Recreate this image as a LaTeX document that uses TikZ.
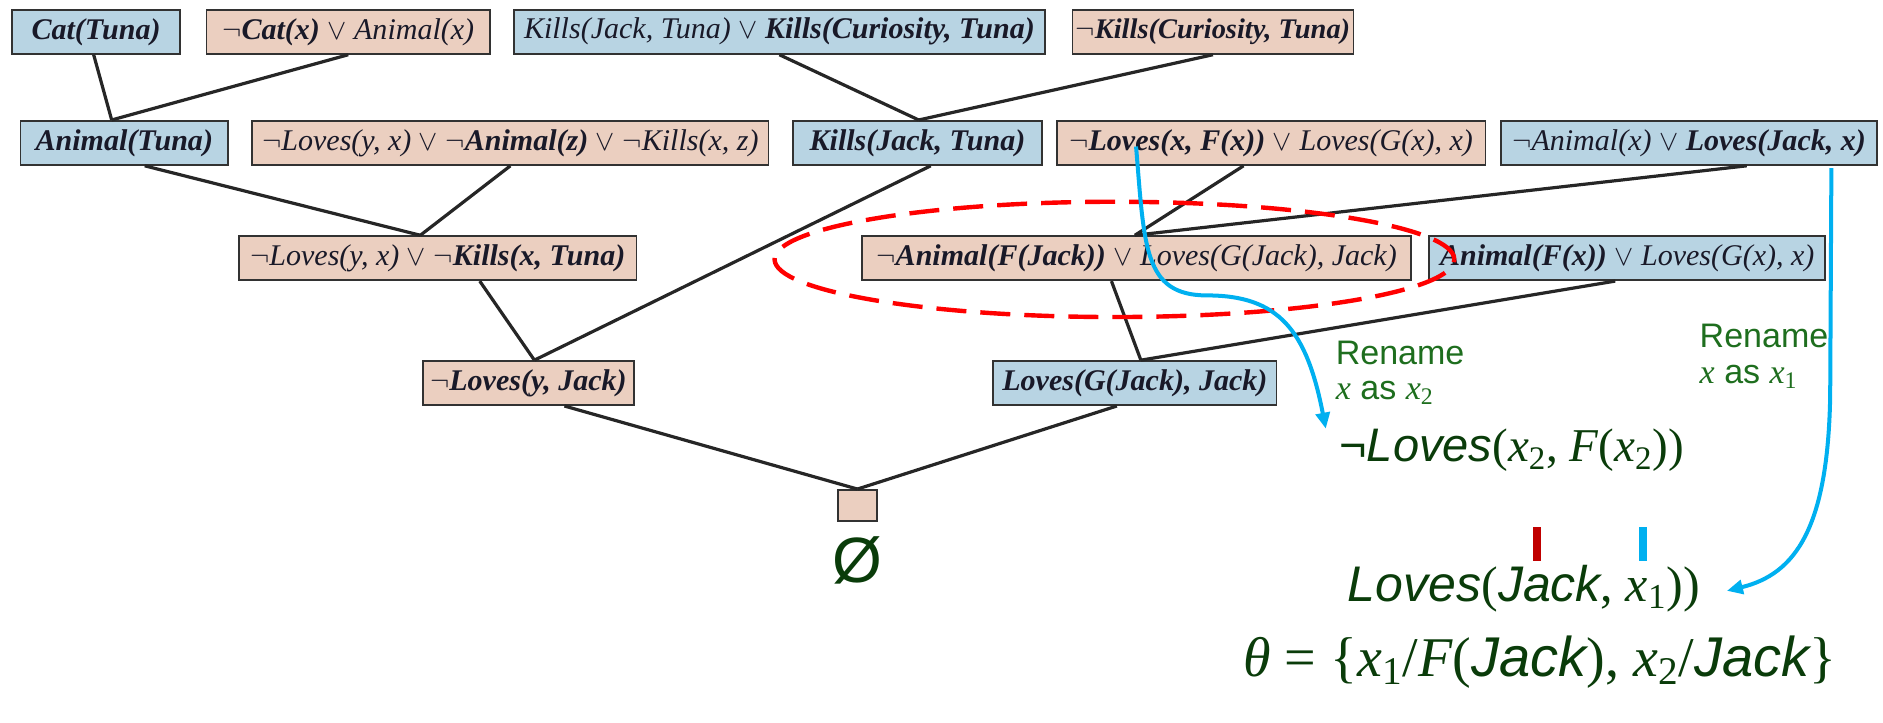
\documentclass[tikz,border=0pt]{standalone}
\usepackage{fontspec}
\setmainfont{Liberation Serif}
\newfontfamily\annsf{Liberation Sans}
\usetikzlibrary{arrows.meta,calc}
\definecolor{boxblue}{RGB}{184,212,227}
\definecolor{boxpeach}{RGB}{235,207,192}
\definecolor{boxedge}{RGB}{50,50,50}
\definecolor{textdark}{RGB}{25,25,40}
\definecolor{cyanline}{RGB}{0,176,240}
\definecolor{redline}{RGB}{255,0,0}
\definecolor{barred}{RGB}{192,0,0}
\definecolor{rengreen}{RGB}{30,110,30}
\definecolor{formgreen}{RGB}{10,60,10}
\newcommand\myit[1]{\textit{#1}}
\newcommand\mybf[1]{\textbf{\textit{#1}}}
\newcommand\sfi[1]{{\annsf\itshape #1}}
\newcommand\mv[1]{{\rmfamily\itshape #1}}
\newcommand\mn[1]{{\rmfamily #1}}
\newcommand\msub[1]{\textsubscript{\rmfamily #1}}
\begin{document}
\begin{tikzpicture}[x=0.6pt,y=-0.6pt,
  clause/.style={draw=boxedge, line width=0.9pt, inner sep=0pt, minimum height=22pt, text=textdark, font=\fontsize{15}{18}\selectfont},
  bluebox/.style={clause, fill=boxblue},
  peachbox/.style={clause, fill=boxpeach},
  treeline/.style={line width=1.6pt, draw=black!85},
  cyanarrow/.style={draw=cyanline, line width=2pt, -{Triangle[length=8pt,width=7pt]}},
  rentext/.style={text=rengreen, font=\annsf\fontsize{17}{20}\selectfont, inner sep=0pt, anchor=west},
  formtext/.style={text=formgreen, font=\annsf\fontsize{24}{28}\selectfont, inner sep=0pt},
]
\useasboundingbox (0,0) rectangle (1568,602);

% row 1
\node[bluebox, minimum width=84pt] (cat) at (80,26.5) {\mybf{Cat(Tuna)}};
\node[peachbox, minimum width=141.6pt] (ncat) at (290,26.5) {$\neg$\mybf{Cat(x)} $\vee$ \myit{Animal(x)}};
\node[bluebox, minimum width=265.2pt] (kills2) at (649,26.5) {\myit{Kills(Jack, Tuna)} $\vee$ \mybf{Kills(Curiosity, Tuna)}};
\node[peachbox, minimum width=140.4pt, font=\fontsize{14.2}{17}\selectfont] (nkc) at (1010,26.5) {$\neg$\mybf{Kills(Curiosity, Tuna)}};
% row 2
\node[bluebox, minimum width=103.8pt] (animal) at (103.5,119) {\mybf{Animal(Tuna)}};
\node[peachbox, minimum width=258pt] (lak) at (425,119) {$\neg$\myit{Loves(y, x)} $\vee$ $\neg$\mybf{Animal(z)} $\vee$ $\neg$\myit{Kills(x, z)}};
\node[bluebox, minimum width=124.8pt] (kjt) at (764,119) {\mybf{Kills(Jack, Tuna)}};
\node[peachbox, minimum width=214.2pt] (lfg) at (1058.5,119) {$\neg$\mybf{Loves(x, F(x))} $\vee$ \myit{Loves(G(x), x)}};
\node[bluebox, minimum width=187.8pt] (alj) at (1406.5,119) {$\neg$\myit{Animal(x)} $\vee$ \mybf{Loves(Jack, x)}};
% row 3
\node[peachbox, minimum width=198.6pt] (lk) at (364.5,215) {$\neg$\myit{Loves(y, x)} $\vee$ $\neg$\mybf{Kills(x, Tuna)}};
\node[peachbox, minimum width=274.2pt] (afj) at (946.5,215) {$\neg$\mybf{Animal(F(Jack))} $\vee$ \myit{Loves(G(Jack), Jack)}};
\node[bluebox, minimum width=198pt] (afx) at (1355,215) {\mybf{Animal(F(x))} $\vee$ \myit{Loves(G(x), x)}};
% row 4
\node[peachbox, minimum width=105.6pt] (ly) at (440,319) {$\neg$\mybf{Loves(y, Jack)}};
\node[bluebox, minimum width=141.6pt] (lgj) at (945,319) {\mybf{Loves(G(Jack), Jack)}};
% empty clause
\node[peachbox, minimum width=19.2pt, minimum height=15.6pt] (empty) at (714,421) {};
\node[text=formgreen, font=\annsf\fontsize{32}{36}\selectfont, inner sep=0pt] (emptylabel) at (714,467) {Ø};

% join points
\coordinate (j1) at ($(animal.north)+(-10.5,0)$);
\coordinate (j2) at ($(kjt.north)+(1,0)$);
\coordinate (j3) at ($(lk.north)+(-14.5,0)$);
\coordinate (j4) at ($(ly.north)+(5,0)$);
\coordinate (j5) at ($(afj.north)+(-1.5,0)$);
\coordinate (j6) at ($(lgj.north)+(5,0)$);

% tree edges
\draw[treeline] ($(cat.south)+(-2,0)$) -- (j1);
\draw[treeline] (ncat.south) -- (j1);
\draw[treeline] (kills2.south) -- (j2);
\draw[treeline] (nkc.south) -- (j2);
\draw[treeline] ($(animal.south)+(17,0)$) -- (j3);
\draw[treeline] (lak.south) -- (j3);
\draw[treeline] ($(lk.south)+(35,0)$) -- (j4);
\draw[treeline] ($(kjt.south)+(11,0)$) -- (j4);
\draw[treeline] ($(lfg.south)+(-23,0)$) -- (j5);
\draw[treeline] ($(alj.south)+(48,0)$) -- (j5);
\draw[treeline] ($(afj.south)+(-21,0)$) -- (j6);
\draw[treeline] ($(afx.south)+(-10,0)$) -- (j6);
\draw[treeline] ($(ly.south)+(30,0)$) -- (empty.north);
\draw[treeline] ($(lgj.south)+(-15,0)$) -- (empty.north);

% red dashed ellipse
\draw[redline, line width=2.2pt, dash pattern=on 15pt off 7pt] (928,216) ellipse [x radius=169.8pt, y radius=28.8pt];

% annotations
\node[rentext] (ren1) at (1112,294) {Rename};
\node[rentext] (as1) at (1112,327) {\mv{x} as \mv{x}\msub{2}};
\node[rentext] (ren2) at (1415,280) {Rename};
\node[rentext] (as2) at (1415,314) {\mv{x} as \mv{x}\msub{1}};

\node[formtext, anchor=west, font=\annsf\fontsize{23.5}{28}\selectfont] (f1) at (1115,375) {¬\sfi{Loves}\mn{(}\mv{x}\msub{2}\mn{, }\mv{F}\mn{(}\mv{x}\msub{2}\mn{))}};
\node[formtext, anchor=west, font=\annsf\fontsize{25}{29}\selectfont] (f2) at (1122,490) {\sfi{Loves}\mn{(}\sfi{Jack}\mn{, }\mv{x}\msub{1}\mn{))}};
\node[formtext, anchor=west, font=\annsf\fontsize{28}{32}\selectfont] (theta) at (1035,551) {\mv{θ}\mn{\ = \{}\mv{x}\msub{1}\mn{/}\mv{F}\mn{(}\sfi{Jack}\mn{), }\mv{x}\msub{2}\mn{/}\sfi{Jack}\mn{\}}};

\coordinate (rb1) at (1280,439); \coordinate (rb2) at (1280,467);
\coordinate (bb1) at (1368,439); \coordinate (bb2) at (1368,467);
\draw[barred, line width=4pt] (rb1) -- (rb2);
\draw[cyanline, line width=4pt] (bb1) -- (bb2);

% cyan rename arrows
\coordinate (c1s) at (946,122);
\coordinate (c1e) at (1104,357);
\draw[cyanarrow] (c1s) .. controls (953,205) and (952,246) .. (1005,246) .. controls (1065,246) and (1088,275) .. (c1e);
\coordinate (c2s) at (1525,140);
\coordinate (c2e) at (1438,492);
\draw[cyanarrow] (c2s) -- (1524,330) .. controls (1522,440) and (1495,478) .. (c2e);
\end{tikzpicture}
\end{document}
